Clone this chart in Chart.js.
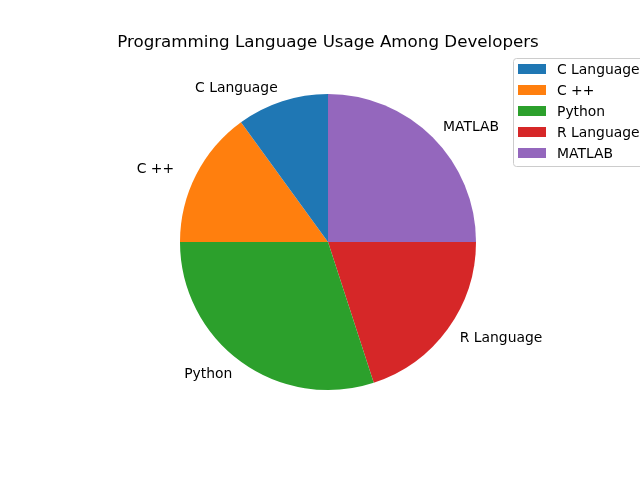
<!DOCTYPE html>
<html>
<head>
<meta charset="utf-8">
<script src="https://cdn.jsdelivr.net/npm/chart.js@4"></script>
<style>
  html, body { margin: 0; padding: 0; background: #fff; }
  #wrap { width: 640px; height: 480px; }
</style>
</head>
<body>
<div id="wrap"><canvas id="pieChart" width="640" height="480"></canvas></div>
<script>
// Programming language usage - pie chart

const languages = ['C Language', 'C ++  ', 'Python', 'R Language', 'MATLAB'];
const usage = [10, 15, 30, 20, 25];
const colors = ['#1f77b4', '#ff7f0e', '#2ca02c', '#d62728', '#9467bd'];
const chartTitle = 'Programming Language Usage Among Developers';

const FONT = '"DejaVu Sans", sans-serif';

// matplotlib draws counter-clockwise, Chart.js clockwise, so feed it reversed
const revLabels = languages.slice().reverse();
const revData = usage.slice().reverse();
const revColors = colors.slice().reverse();

const decorations = {
  id: 'decorations',
  afterDraw(chart) {
    const ctx = chart.ctx;
    const meta = chart.getDatasetMeta(0);

    ctx.save();
    // title
    ctx.fillStyle = '#000';
    ctx.font = '16.7px ' + FONT;
    ctx.textAlign = 'center';
    ctx.textBaseline = 'middle';
    ctx.fillText(chartTitle, 328, 43);

    // outer slice labels
    ctx.font = '13.9px ' + FONT;
    meta.data.forEach(function(arc, i) {
      const mid = (arc.startAngle + arc.endAngle) / 2;
      const r = arc.outerRadius * 1.1;
      const x = arc.x + Math.cos(mid) * r;
      const y = arc.y + Math.sin(mid) * r + 1;
      ctx.textAlign = Math.cos(mid) >= 0 ? 'left' : 'right';
      ctx.fillText(chart.data.labels[i], x, y);
    });

    // legend box
    const bx = 513, by = 58, bw = 140, bh = 108;
    ctx.fillStyle = 'rgba(255,255,255,0.8)';
    ctx.strokeStyle = '#cccccc';
    ctx.lineWidth = 1;
    ctx.beginPath();
    ctx.roundRect(bx + 0.5, by + 0.5, bw, bh, 3);
    ctx.fill();
    ctx.stroke();

    ctx.textAlign = 'left';
    languages.forEach(function(name, i) {
      const cy = 69 + i * 21;
      ctx.fillStyle = colors[i];
      ctx.fillRect(518, cy - 5, 28, 10);
      ctx.fillStyle = '#000';
      ctx.fillText(name, 557, cy + 1);
    });
    ctx.restore();
  }
};

new Chart(document.getElementById('pieChart'), {
  type: 'pie',
  data: {
    labels: revLabels,
    datasets: [{
      data: revData,
      backgroundColor: revColors,
      borderWidth: 0,
      hoverOffset: 0
    }]
  },
  options: {
    responsive: false,
    animation: false,
    events: [],
    layout: {
      padding: { left: 180, right: 164, top: 94, bottom: 90 }
    },
    plugins: {
      legend: { display: false },
      title: { display: false },
      tooltip: { enabled: false }
    }
  },
  plugins: [decorations]
});
</script>
</body>
</html>
